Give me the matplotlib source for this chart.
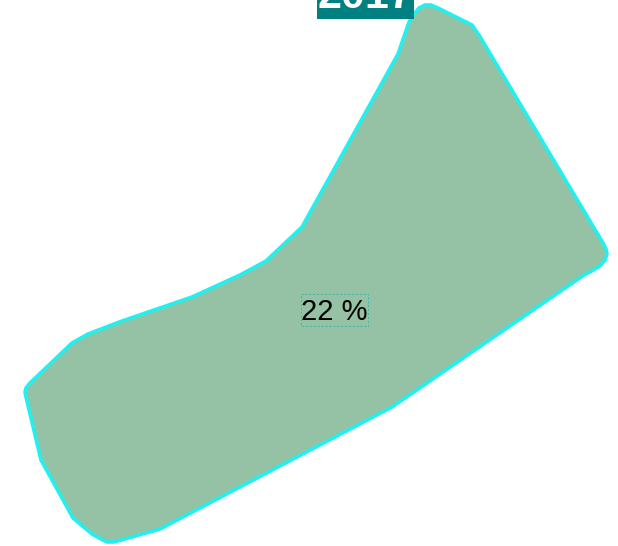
import matplotlib
matplotlib.use('Agg')
import matplotlib.pyplot as plt
from matplotlib.patches import Polygon, Rectangle

# Outline of the shape (pixels, y goes down)
outline_x = [414, 419, 425, 431, 438, 472, 479, 603, 606, 607, 605, 601, 595, 584, 392, 160, 114, 107, 101, 92, 73, 41, 26, 25, 26, 30, 72, 88, 122, 192, 240, 266, 302, 398, 409]
outline_y = [14, 8, 5, 5, 8, 25, 35, 243, 249, 254, 260, 265, 269, 275, 407, 529, 542, 542, 539, 534, 518, 460, 397, 392, 388, 383, 343, 334, 321, 297, 275, 261, 227, 54, 22]

title_text = '2017'
label_text = '22 %'

plt.rcParams['font.family'] = ['Liberation Sans', 'DejaVu Sans']

fig = plt.figure(figsize=(6.18, 5.46), dpi=100)
ax = fig.add_axes([0, 0, 1, 1])
ax.set_xlim(0, 618)
ax.set_ylim(546, 0)
ax.axis('off')

# Forma principal
ax.add_patch(Polygon(list(zip(outline_x, outline_y)), closed=True, facecolor='#95c2a4',
                     edgecolor='#22f0ee', linewidth=2.6, joinstyle='round'))

# Titulo cortado no topo
ax.add_patch(Rectangle((317, -5), 97, 24, facecolor='#008080', edgecolor='none', zorder=3))
ax.text(365, 8, title_text, color='white', fontsize=31, fontweight='bold',
        ha='center', va='baseline', zorder=4, clip_on=False)

# Rotulo central
ax.add_patch(Rectangle((300.5, 293.5), 67, 32, facecolor='none', edgecolor='#3fb8a8',
                       linewidth=0.7, linestyle=(0, (2, 2)), zorder=3))
ax.text(334, 320, label_text, color='black', fontsize=21, ha='center', va='baseline', zorder=4)

fig.savefig('out.png', dpi=100)
